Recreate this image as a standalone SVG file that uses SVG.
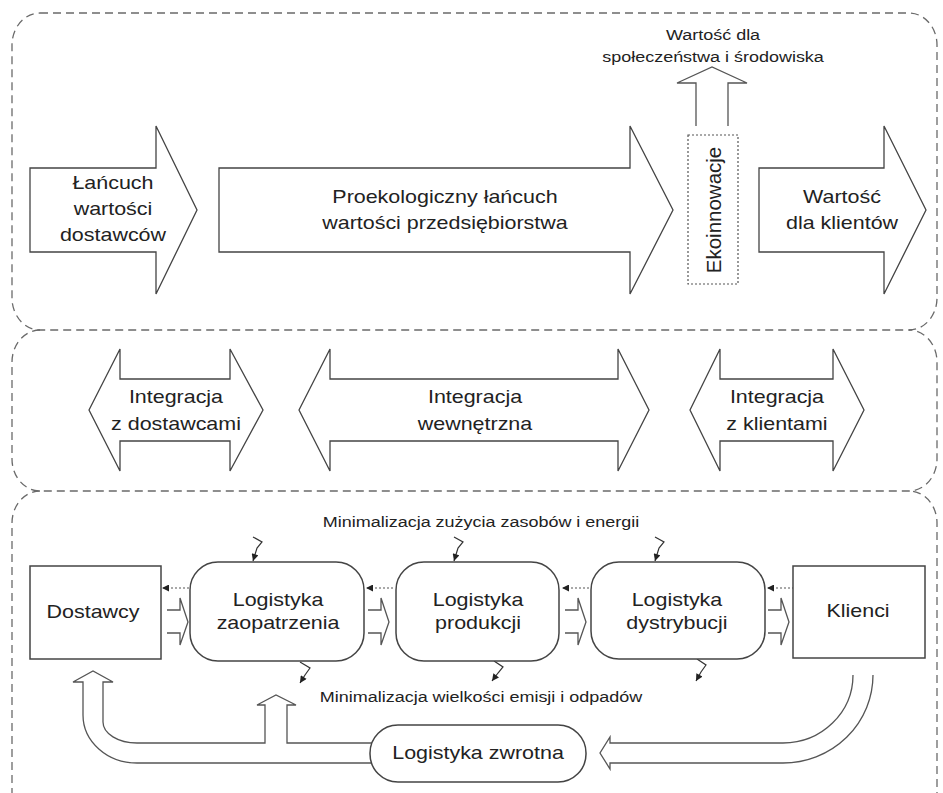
<svg xmlns="http://www.w3.org/2000/svg" width="943" height="793" viewBox="0 0 943 793">
<style>
.panel{fill:none;stroke:#6a6a6a;stroke-width:1.3;stroke-dasharray:8 5}
.big{fill:#fff;stroke:#444;stroke-width:1.3;stroke-linejoin:miter}
.box{fill:#fff;stroke:#444;stroke-width:1.5}
.ln{fill:none;stroke:#555;stroke-width:1.3}
.hol{fill:#fff;stroke:#555;stroke-width:1.3}
.dot{fill:none;stroke:#555;stroke-width:1.2;stroke-dasharray:2 2}
.sq{fill:none;stroke:#333;stroke-width:1.2}
text{font-family:"Liberation Sans",Arial,sans-serif;fill:#222;text-anchor:middle}
.t{font-size:18.5px}
.s{font-size:15.5px}
</style>
<defs>
<marker id="ah" viewBox="0 0 10 10" refX="10" refY="5" markerWidth="8" markerHeight="7" markerUnits="userSpaceOnUse" orient="auto">
<path d="M0 0 L10 5 L0 10 Z" fill="#222"/>
</marker>
</defs>

<g id="panels">
<path class="panel" d="M 40 13 H 909 A 28 32 0 0 1 937 45 V 298 A 28 32 0 0 1 909 330 H 40 A 28 32 0 0 1 12 298 V 45 A 28 32 0 0 1 40 13 Z"/>
<path class="panel" d="M 40 330 A 28 32 0 0 0 12 362 V 459 A 28 32 0 0 0 40 491 H 909 A 28 32 0 0 0 937 459 V 362 A 28 32 0 0 0 909 330"/>
<path class="panel" d="M 40 491 A 28 32 0 0 0 12 523 V 800 M 937 800 V 523 A 28 32 0 0 0 909 491"/>
</g>

<g id="lancuch-dostawcow">
<path class="big" d="M 30 168 H 156 V 126 L 197 210 L 156 294 V 252 H 30 Z"/>
<text class="t" transform="scale(1.16 1)" x="97.4" y="189.5">Łańcuch</text>
<text class="t" transform="scale(1.16 1)" x="97.4" y="215.5">wartości</text>
<text class="t" transform="scale(1.16 1)" x="97.4" y="241.5">dostawców</text>
</g>

<g id="lancuch-przedsiebiorstwa">
<path class="big" d="M 219 168 H 630 V 126 L 673 210 L 630 294 V 252 H 219 Z"/>
<text class="t" transform="scale(1.16 1)" x="383.6" y="203.5">Proekologiczny łańcuch</text>
<text class="t" transform="scale(1.16 1)" x="383.6" y="229.5">wartości przedsiębiorstwa</text>
</g>

<g id="ekoinnowacje">
<path class="hol" d="M 696 126 V 83 H 677 L 712 67 L 747 83 H 728 V 126"/>
<rect x="688" y="135" width="50" height="149" fill="#fff" stroke="#555" stroke-width="1.2" stroke-dasharray="2 2"/>
<text transform="translate(713 210) rotate(-90)" x="0" y="8" style="font-size:20.5px">Ekoinnowacje</text>
</g>

<g id="wartosc-spoleczenstwo">
<text class="s" transform="scale(1.16 1)" x="614.7" y="40.5">Wartość dla</text>
<text class="s" transform="scale(1.16 1)" x="614.7" y="62.5">społeczeństwa i środowiska</text>
</g>

<g id="wartosc-klienci">
<path class="big" d="M 759 168 H 884 V 126 L 926 210 L 884 294 V 252 H 759 Z"/>
<text class="t" transform="scale(1.16 1)" x="725.9" y="203.5">Wartość</text>
<text class="t" transform="scale(1.16 1)" x="725.9" y="229.5">dla klientów</text>
</g>

<g id="integracja-dostawcy">
<path class="big" d="M 89 410 L 120 349 V 379 H 230 V 349 L 263 410 L 230 471 V 441 H 120 V 471 Z"/>
<text class="t" transform="scale(1.16 1)" x="151.7" y="403.5">Integracja</text>
<text class="t" transform="scale(1.16 1)" x="151.7" y="430.5">z dostawcami</text>
</g>

<g id="integracja-wewnetrzna">
<path class="big" d="M 299 410 L 330 349 V 379 H 618 V 349 L 649 410 L 618 471 V 441 H 330 V 471 Z"/>
<text class="t" transform="scale(1.16 1)" x="409.5" y="403.5">Integracja</text>
<text class="t" transform="scale(1.16 1)" x="409.5" y="430.5">wewnętrzna</text>
</g>

<g id="integracja-klienci">
<path class="big" d="M 690 410 L 720 349 V 379 H 833 V 349 L 864 410 L 833 471 V 441 H 720 V 471 Z"/>
<text class="t" transform="scale(1.16 1)" x="669.8" y="403.5">Integracja</text>
<text class="t" transform="scale(1.16 1)" x="669.8" y="430.5">z klientami</text>
</g>

<g id="connectors">
<!-- return flows -->
<path class="hol" d="M 372 763 H 137 A 54 48 0 0 1 83 715 V 682 H 73 L 93 671 L 113 682 H 103 V 722 A 34 21 0 0 0 137 743 H 265 V 705 H 257 L 276 695 L 296 705 H 287 V 743 H 372"/>
<path class="hol" d="M 853 675 A 70 68 0 0 1 783 743 H 610 V 737 L 600 753 L 610 769 V 763 H 783 A 90 88 0 0 0 873 675"/>
<!-- forward flows -->
<path class="hol" d="M 167 610 H 180 V 598 L 188 622 L 180 645 V 633 H 167"/>
<path class="hol" d="M 368 610 H 381 V 598 L 389 622 L 381 645 V 633 H 368"/>
<path class="hol" d="M 565 610 H 578 V 598 L 586 622 L 578 645 V 633 H 565"/>
<path class="hol" d="M 768 610 H 781 V 598 L 789 622 L 781 645 V 633 H 768"/>
<!-- information flows -->
<path class="dot" d="M 189 588 H 162" marker-end="url(#ah)"/>
<path class="dot" d="M 393 588 H 366" marker-end="url(#ah)"/>
<path class="dot" d="M 589 588 H 562" marker-end="url(#ah)"/>
<path class="dot" d="M 794 588 H 767" marker-end="url(#ah)"/>
<!-- resource inputs -->
<path class="sq" d="M 253 537 L 262 542 L 257 548 L 253 561" marker-end="url(#ah)"/>
<path class="sq" d="M 454 537 L 463 542 L 458 548 L 454 561" marker-end="url(#ah)"/>
<path class="sq" d="M 655 537 L 664 542 L 659 548 L 655 561" marker-end="url(#ah)"/>
<!-- emissions outputs -->
<path class="sq" d="M 300 662 L 310 668 L 305 675 L 300 683" marker-end="url(#ah)"/>
<path class="sq" d="M 494 661 L 503 667 L 498 673 L 492 681" marker-end="url(#ah)"/>
<path class="sq" d="M 697 659 L 706 665 L 701 672 L 696 681" marker-end="url(#ah)"/>
</g>

<g id="minimalizacja-zuzycia">
<text class="s" transform="scale(1.16 1)" x="414.7" y="527.5">Minimalizacja zużycia zasobów i energii</text>
</g>
<g id="minimalizacja-emisji">
<text class="s" transform="scale(1.16 1)" x="414.7" y="702.5">Minimalizacja wielkości emisji i odpadów</text>
</g>

<g id="dostawcy">
<rect class="box" x="30" y="566" width="131" height="93"/>
<text class="t" transform="scale(1.16 1)" x="80.2" y="618.5">Dostawcy</text>
</g>

<g id="logistyka-zaopatrzenia">
<rect class="box" x="190" y="562" width="174" height="99" rx="28" ry="28"/>
<text class="t" transform="scale(1.16 1)" x="239.7" y="606.5">Logistyka</text>
<text class="t" transform="scale(1.16 1)" x="239.7" y="629.5">zaopatrzenia</text>
</g>

<g id="logistyka-produkcji">
<rect class="box" x="396" y="562" width="163" height="99" rx="28" ry="28"/>
<text class="t" transform="scale(1.16 1)" x="412.1" y="606.5">Logistyka</text>
<text class="t" transform="scale(1.16 1)" x="412.1" y="629.5">produkcji</text>
</g>

<g id="logistyka-dystrybucji">
<rect class="box" x="591" y="562" width="174" height="97" rx="28" ry="28"/>
<text class="t" transform="scale(1.16 1)" x="583.6" y="606.5">Logistyka</text>
<text class="t" transform="scale(1.16 1)" x="583.6" y="629.5">dystrybucji</text>
</g>

<g id="klienci">
<rect class="box" x="793" y="566" width="132" height="92"/>
<text class="t" transform="scale(1.16 1)" x="739.7" y="617.5">Klienci</text>
</g>

<g id="logistyka-zwrotna">
<rect class="box" x="370" y="725" width="216" height="57" rx="28" ry="28"/>
<text class="t" transform="scale(1.16 1)" x="412.1" y="759.5">Logistyka zwrotna</text>
</g>
</svg>
